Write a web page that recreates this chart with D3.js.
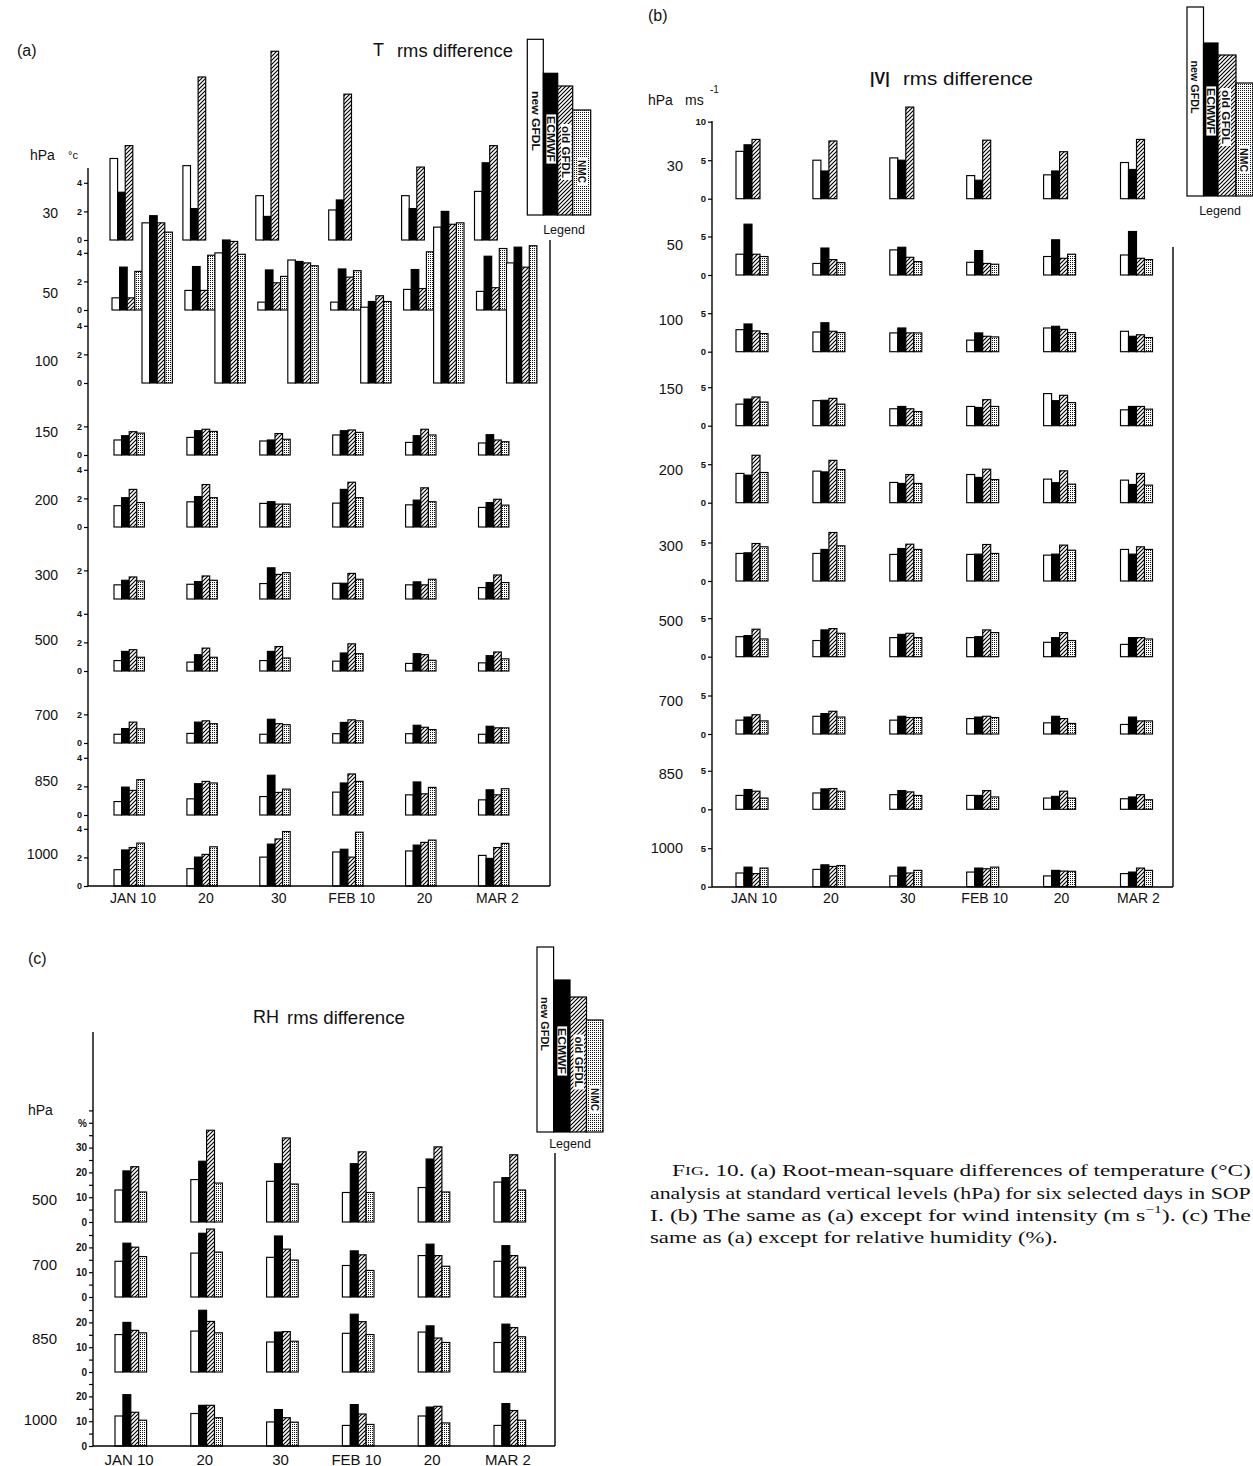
<!DOCTYPE html>
<html><head><meta charset="utf-8">
<script src="https://cdn.jsdelivr.net/npm/d3@7"></script>
<style>
body{margin:0;background:#fff}
svg{display:block}
text{font-family:"Liberation Sans",Arial,Helvetica,sans-serif;fill:#111}
</style></head><body>
<svg id="c" width="1253" height="1466"></svg>
<script>
// ---------------- DATA ----------------
const dates = ["JAN 10","20","30","FEB 10","20","MAR 2"];
const models = ["new GFDL","ECMWF","old GFDL","NMC"];
const tLevels = ["30","50","100","150","200","300","500","700","850","1000"];
const vLevels = ["30","50","100","150","200","300","500","700","850","1000"];
const rhLevels = ["500","700","850","1000"];
const tTicks = [[0,2,4],[0,2,4],[0,2,4],[0,2],[0,2,4],[2],[0,2,4],[0,2],[0,2,4],[0,2,4]];
const vTicks = [[0,5,10],[0,5],[0,5],[0,5],[0,5],[0,5],[0,5],[0,5],[0,5],[0,5]];
const rhTicks = [[0,5,10,15,20,25,30,35,40,45],[0,5,10,15,20,25],[0,5,10,15,20,25],[0,5,10,15,20,25]];

// (a) temperature rms difference (°C): rows = levels, cols = dates
const tNew = [[5.7,5.2,3.1,2.1,3.1,3.4],[0.85,1.37,0.55,0.55,1.44,1.3],[11.2,9.1,8.6,5.3,10.9,8.4],
  [1.05,1.23,0.98,1.4,0.88,0.84],[1.49,1.76,1.65,1.67,1.55,1.37],[0.99,1.03,1.08,1.1,0.99,0.8],
  [0.73,0.62,0.73,0.69,0.53,0.57],[0.61,0.67,0.61,0.65,0.65,0.61],[0.94,1.13,1.29,1.6,1.41,1.06],
  [1.14,1.21,2.02,2.38,2.45,2.14]];
const tEcm = [[3.34,2.2,1.65,2.8,2.2,5.4],[3.0,3.04,2.8,2.87,2.83,3.76],[11.7,10.0,8.5,5.7,12.0,9.5],
  [1.35,1.7,1.05,1.7,1.35,1.42],[2.05,2.13,1.77,2.63,1.88,1.71],[1.31,1.22,2.18,1.1,1.2,1.15],
  [1.37,1.14,1.37,1.26,1.21,1.07],[1.01,1.46,1.66,1.44,1.24,1.17],[1.95,2.19,2.78,2.24,2.31,1.76],
  [2.52,2.02,2.93,2.57,2.86,1.93]];
const tOld = [[6.6,11.4,13.2,10.2,5.1,6.6],[0.85,1.37,1.9,2.3,1.5,1.56],[11.2,9.9,8.4,6.1,11.1,8.1],
  [1.63,1.8,1.5,1.75,1.8,1.05],[2.63,2.97,1.6,3.13,2.74,1.94],[1.54,1.61,1.72,1.79,0.99,1.68],
  [1.49,1.6,1.71,1.9,1.14,1.33],[1.46,1.55,1.35,1.62,1.1,1.06],[1.72,2.35,1.58,2.87,1.48,1.41],
  [2.69,2.21,3.29,2.02,3.05,2.69]];
const tNmc = [null,[2.7,3.83,2.35,2.75,4.07,4.3],[10.55,9.0,8.2,5.7,11.2,9.6],
  [1.53,1.65,1.1,1.58,1.4,0.93],[1.71,2.05,1.6,2.05,1.77,1.53],[1.26,1.31,1.84,1.38,1.38,1.15],
  [0.96,0.96,0.91,1.21,0.75,0.85],[0.99,1.35,1.28,1.55,0.94,1.06],[2.47,2.24,1.81,2.35,1.93,1.84],
  [3.0,2.74,3.81,3.76,3.21,2.98]];

// (b) |V| rms difference (m/s)
const vNew = [[6.15,5.0,5.3,3.0,3.1,4.7],[2.7,1.5,3.26,1.65,2.4,2.6],[2.86,2.56,2.44,1.5,3.08,2.65],
  [2.8,3.25,2.2,2.5,4.17,2.06],[3.8,4.1,2.63,3.66,3.06,2.93],[3.58,3.58,3.45,3.45,3.36,4.1],
  [2.6,2.1,2.48,2.48,1.87,1.6],[1.8,2.3,1.8,2.0,1.45,1.24],[1.8,2.12,1.9,1.8,1.46,1.37],
  [1.78,2.25,1.4,1.9,1.4,1.7]];
const vEcm = [[7.0,3.6,5.0,2.4,3.6,3.8],[6.6,3.5,3.6,3.17,4.57,5.65],[3.6,3.76,3.08,2.44,3.3,2.0],
  [3.46,3.3,2.5,2.37,3.25,2.5],[3.58,4.0,2.5,3.28,2.6,2.37],[3.66,4.1,4.22,3.49,3.49,3.49],
  [2.74,3.48,2.9,2.6,2.48,2.48],[2.2,2.65,2.3,2.2,2.3,2.2],[2.57,2.65,2.43,1.8,1.68,1.6],
  [2.54,2.84,2.54,2.42,2.12,1.9]];
const vOld = [[7.7,7.5,11.9,7.6,6.1,7.7],[2.7,2.0,2.3,1.5,2.17,2.17],[2.7,2.65,2.44,2.0,2.9,2.2],
  [3.73,3.55,2.2,3.38,3.95,2.5],[6.16,5.5,3.66,4.35,4.14,3.8],[4.87,6.3,4.78,4.74,4.66,4.44],
  [3.57,3.65,3.04,3.48,3.13,2.48],[2.5,2.95,2.14,2.3,2.0,1.7],[2.35,2.7,2.26,2.43,2.35,1.9],
  [1.7,2.63,1.78,2.33,2.03,2.42]];
const vNmc = [null,[2.4,1.6,1.74,1.4,2.7,2.0],[2.35,2.48,2.44,1.92,2.48,1.84],
  [3.07,2.8,1.84,2.5,3.0,2.15],[3.92,4.3,2.5,3.0,2.41,2.28],[4.44,4.57,4.1,3.58,4.0,4.1],
  [2.3,3.04,2.48,3.13,2.1,2.3],[1.7,2.2,2.14,2.14,1.37,1.7],[1.46,2.35,1.8,1.6,1.46,1.24],
  [2.42,2.75,2.12,2.54,2.0,2.12]];

// (c) RH rms difference (%)
const rNew = [[12.9,17.1,16.4,11.9,13.9,16.1],[14.4,17.7,16.0,12.7,16.7,14.4],[15.1,16.5,12.1,15.6,16.1,11.9],[12.1,13.1,9.7,8.3,12.1,8.3]];
const rEcm = [[20.6,24.5,23.5,23.5,25.4,17.9],[21.7,25.7,24.6,18.6,21.3,20.7],[20.0,24.9,16.1,23.3,18.6,19.3],[20.7,16.4,14.7,16.7,15.7,17.1]];
const rOld = [[22.3,37.0,33.9,28.3,30.3,27.1],[20.1,27.4,19.3,17.0,16.7,16.7],[16.8,20.4,16.3,20.3,13.7,17.9],[13.6,16.4,11.4,12.9,16.0,14.3]];
const rNmc = [[12.1,15.7,15.3,11.9,12.1,12.9],[16.3,18.1,14.9,10.7,12.4,12.0],[15.8,15.8,12.4,15.1,11.9,14.2],[10.4,11.4,9.6,8.7,9.3,10.4]];

// ---------------- DRAWING ----------------
const svg = d3.select("#c");
svg.append("rect").attr("width",1253).attr("height",1466).attr("fill","#fff");
const defs = svg.append("defs");
const hatch = defs.append("pattern").attr("id","hatch").attr("patternUnits","userSpaceOnUse").attr("width",4).attr("height",4);
hatch.append("rect").attr("width",4).attr("height",4).attr("fill","#fff");
hatch.append("path").attr("d","M-1,1 L1,-1 M0,4 L4,0 M3,5 L5,3").attr("stroke","#000").attr("stroke-width",1.15);
const dots = defs.append("pattern").attr("id","dots").attr("patternUnits","userSpaceOnUse").attr("width",2).attr("height",2);
dots.append("rect").attr("width",2).attr("height",2).attr("fill","#fff");
dots.append("rect").attr("x",0).attr("y",0).attr("width",1).attr("height",1).attr("fill","#111");
const fills = ["#fff","#000","url(#hatch)","url(#dots)"];

function fitText(parent, str, x, y, w, size, opts={}) {
  const t = parent.append("text").attr("x",0).attr("y",0)
    .attr("dominant-baseline","central").attr("font-size",size)
    .attr("text-anchor", opts.anchor || "start")
    .attr("font-weight", opts.weight || "normal")
    .text(str);
  const nw = t.node().getComputedTextLength();
  const k = w / nw;
  t.attr("transform", `translate(${x},${y})` + (opts.rotate ? ` rotate(${opts.rotate})` : "") + ` scale(${k},1)`);
  return t;
}

function drawPanel(c) {
  const g = svg.append("g");
  const xDate = d3.scaleLinear().domain([0, dates.length-1]).range([c.x0, c.x0 + c.step*(dates.length-1)]);
  const xModel = d3.scaleLinear().domain([0,1]).range([0,c.barW]);
  c.levels.forEach((lev, li) => {
    const y = d3.scaleLinear().domain([0,1]).range([c.base[li], c.base[li]-c.unit]);
    const recs = [];
    dates.forEach((d,di) => c.values.forEach((arr,mi) => {
      const row = arr[li]; if (!row) return;
      const v = row[di]; if (v == null) return;
      recs.push({di, mi, v});
    }));
    g.append("g").selectAll("rect").data(recs).join("rect")
      .attr("x", d => xDate(d.di) + c.offX[li] + xModel(d.mi))
      .attr("y", d => y(d.v))
      .attr("width", c.barW)
      .attr("height", d => y(0) - y(d.v))
      .attr("fill", d => fills[d.mi])
      .attr("stroke","#000").attr("stroke-width",1.15);
    const ax = g.append("g").attr("transform",`translate(${c.axisX},0)`)
      .call(d3.axisLeft(y).tickValues(c.ticks[li]).tickSize(4).tickPadding(2).tickFormat(c.fmt(li)));
    ax.select(".domain").remove();
    ax.selectAll("line").attr("stroke","#000").attr("stroke-width",1.2);
    ax.selectAll("text").attr("font-size",c.tickFont).attr("font-weight","bold").attr("fill","#000")
      .attr("font-family",'"Liberation Sans",Arial,sans-serif');
    g.append("text").attr("x",c.levelLabelX).attr("y",c.levelLabelY[li])
      .attr("text-anchor","end").attr("dominant-baseline","central")
      .attr("font-size",c.levelFont).text(lev);
  });
  g.append("line").attr("x1",c.axisX).attr("x2",c.axisX).attr("y1",c.axisTop).attr("y2",c.bottomY).attr("stroke","#000").attr("stroke-width",1.4);
  g.append("line").attr("x1",c.axisX).attr("x2",c.rightX).attr("y1",c.bottomY).attr("y2",c.bottomY).attr("stroke","#000").attr("stroke-width",1.4);
  g.append("line").attr("x1",c.rightX).attr("x2",c.rightX).attr("y1",c.rightTop).attr("y2",c.bottomY).attr("stroke","#000").attr("stroke-width",1.4);
  g.selectAll(null).data(dates).join("text")
    .attr("x",(d,i) => xDate(i) + c.dateDx)
    .attr("y",c.dateY).attr("text-anchor","middle").attr("dominant-baseline","central")
    .attr("font-size",c.dateFont).text(d => d);
}

function drawLegend(L) {
  const g = svg.append("g");
  const xb = d3.scaleLinear().domain([0,1,2,3,4]).range(L.xs);
  models.forEach((m,i) => {
    g.append("rect").attr("x",xb(i)).attr("y",L.tops[i]).attr("width",xb(i+1)-xb(i)).attr("height",L.bottom-L.tops[i])
      .attr("fill",fills[i]).attr("stroke","#000").attr("stroke-width",1.2);
  });
  models.forEach((m,i) => {
    const [cx,cy,len] = L.labels[i];
    if (i > 0) {
      g.append("rect").attr("x",cx-5).attr("y",cy-len/2-2).attr("width",10.5).attr("height",len+4).attr("fill","#fff")
        .attr("stroke", i===1 ? "#000" : "none").attr("stroke-width",0.8);
    }
    fitText(g, m, cx, cy, len, 11, {anchor:"middle", rotate:90, weight:"bold"});
  });
  g.append("text").attr("x",L.legendX).attr("y",L.legendY).attr("text-anchor","middle").attr("dominant-baseline","central")
    .attr("font-size",12.5).text("Legend");
}

// Panel (a)
drawPanel({
  values:[tNew,tEcm,tOld,tNmc], levels:tLevels, ticks:tTicks,
  base:[240,310,383,455,527,599,671,743,815,886], unit:14.3,
  x0:110, step:72.9, barW:7.6, offX:[0,2,32,4,4,4,4,4,4,4],
  axisX:88, axisTop:168, bottomY:886, rightX:550, rightTop:240,
  tickFont:9, levelLabelX:58, levelLabelY:[213,293,361,432,500,575,640,715,781,854], levelFont:14,
  dateY:898, dateDx:23, dateFont:14, fmt: () => d3.format("d")
});
// Panel (b)
drawPanel({
  values:[vNew,vEcm,vOld,vNmc], levels:vLevels, ticks:vTicks,
  base:[198.7,275,351.7,425.7,502.7,581,656.7,734,809.3,886.7], unit:7.7,
  x0:736, step:76.9, barW:8, offX:[0,0,0,0,0,0,0,0,0,0],
  axisX:712, axisTop:121, bottomY:887, rightX:1173, rightTop:247,
  tickFont:9.5, levelLabelX:683, levelLabelY:[166,245,320,389,470,546,621,701,774,848], levelFont:14.5,
  dateY:898, dateDx:18, dateFont:14, fmt: () => d3.format("d")
});
// Panel (c)
drawPanel({
  values:[rNew,rEcm,rOld,rNmc], levels:rhLevels, ticks:rhTicks,
  base:[1222,1297,1372,1446], unit:2.48,
  x0:115, step:75.8, barW:7.9, offX:[0,0,0,0],
  axisX:93, axisTop:1032, bottomY:1446, rightX:555, rightTop:1153,
  tickFont:10, levelLabelX:57, levelLabelY:[1199,1264,1338,1419], levelFont:15,
  dateY:1459, dateDx:14, dateFont:15,
  fmt: li => (v => (v === 40 && li === 0) ? "%" : (v % 10 === 0 ? String(v) : ""))
});

// Legends
drawLegend({xs:[527.3,543.3,557.7,572.7,590.7], tops:[39.3,73.3,86,110], bottom:215,
  labels:[[535.5,121,60],[551,139,46],[566,152,52],[582,171.5,23]], legendX:564, legendY:230});
drawLegend({xs:[1187,1203.5,1218,1236,1253], tops:[7,43,55,83], bottom:196,
  labels:[[1195.5,87,53],[1211,111,46],[1225.5,117,54],[1244.5,160,24]], legendX:1220, legendY:211});
drawLegend({xs:[537,553.6,570,586.5,603], tops:[947,980,997,1020], bottom:1132,
  labels:[[545.5,1024,54],[562,1051,46],[578.5,1062,51],[595,1099.5,23]], legendX:570, legendY:1144});

// Panel letters, titles, units
const ann = svg.append("g");
function txt(x,y,s,size,opts={}) {
  return ann.append("text").attr("x",x).attr("y",y).attr("font-size",size)
    .attr("dominant-baseline","central").attr("text-anchor",opts.anchor||"start")
    .attr("font-weight",opts.weight||"normal").text(s);
}
txt(17,50,"(a)",16);
txt(648,15,"(b)",16);
txt(28,958,"(c)",16);
txt(373,50,"T",18);
fitText(ann,"rms difference",397,51,116,18);
txt(870,78,"|V|",16,{weight:"bold"});
fitText(ann,"rms difference",903,79,130,18);
fitText(ann,"RH",253,1017,26,18);
fitText(ann,"rms difference",287,1018,118,18);
txt(30,155,"hPa",14);
txt(68,155,"°c",11);
txt(648,100,"hPa",14);
txt(685,100,"ms",14);
txt(710,89,"-1",10);
txt(28,1110,"hPa",14);

// Caption (justified lines fitted to the printed widths)
const cap = svg.append("g");
const capLines = [
  {x:672, y:1170, w:579, parts:[["F",17],["IG",13],[". 10. (a) Root-mean-square differences of temperature (°C)",17]]},
  {x:650, y:1193, w:601, parts:[["analysis at standard vertical levels (hPa) for six selected days in SOP",17]]},
  {x:650, y:1215, w:601, parts:[["I. (b) The same as (a) except for wind intensity (m s",17],["−1",11,6],["). (c) The",17,-6]]},
  {x:650, y:1237, w:408, parts:[["same as (a) except for relative humidity (%).",17]]}
];
capLines.forEach(L => {
  const t = cap.append("text").attr("x",0).attr("y",0).attr("dominant-baseline","central")
    .style("font-family",'"Liberation Serif","Times New Roman",serif');
  L.parts.forEach(p => {
    const ts = t.append("tspan").attr("font-size",p[1]).text(p[0]);
    if (p[2] === 6) ts.attr("dy",-6);
    if (p[2] === -6) ts.attr("dy",6);
  });
  const k = L.w / t.node().getComputedTextLength();
  t.attr("transform",`translate(${L.x},${L.y}) scale(${k},1)`);
});
</script>
</body></html>
